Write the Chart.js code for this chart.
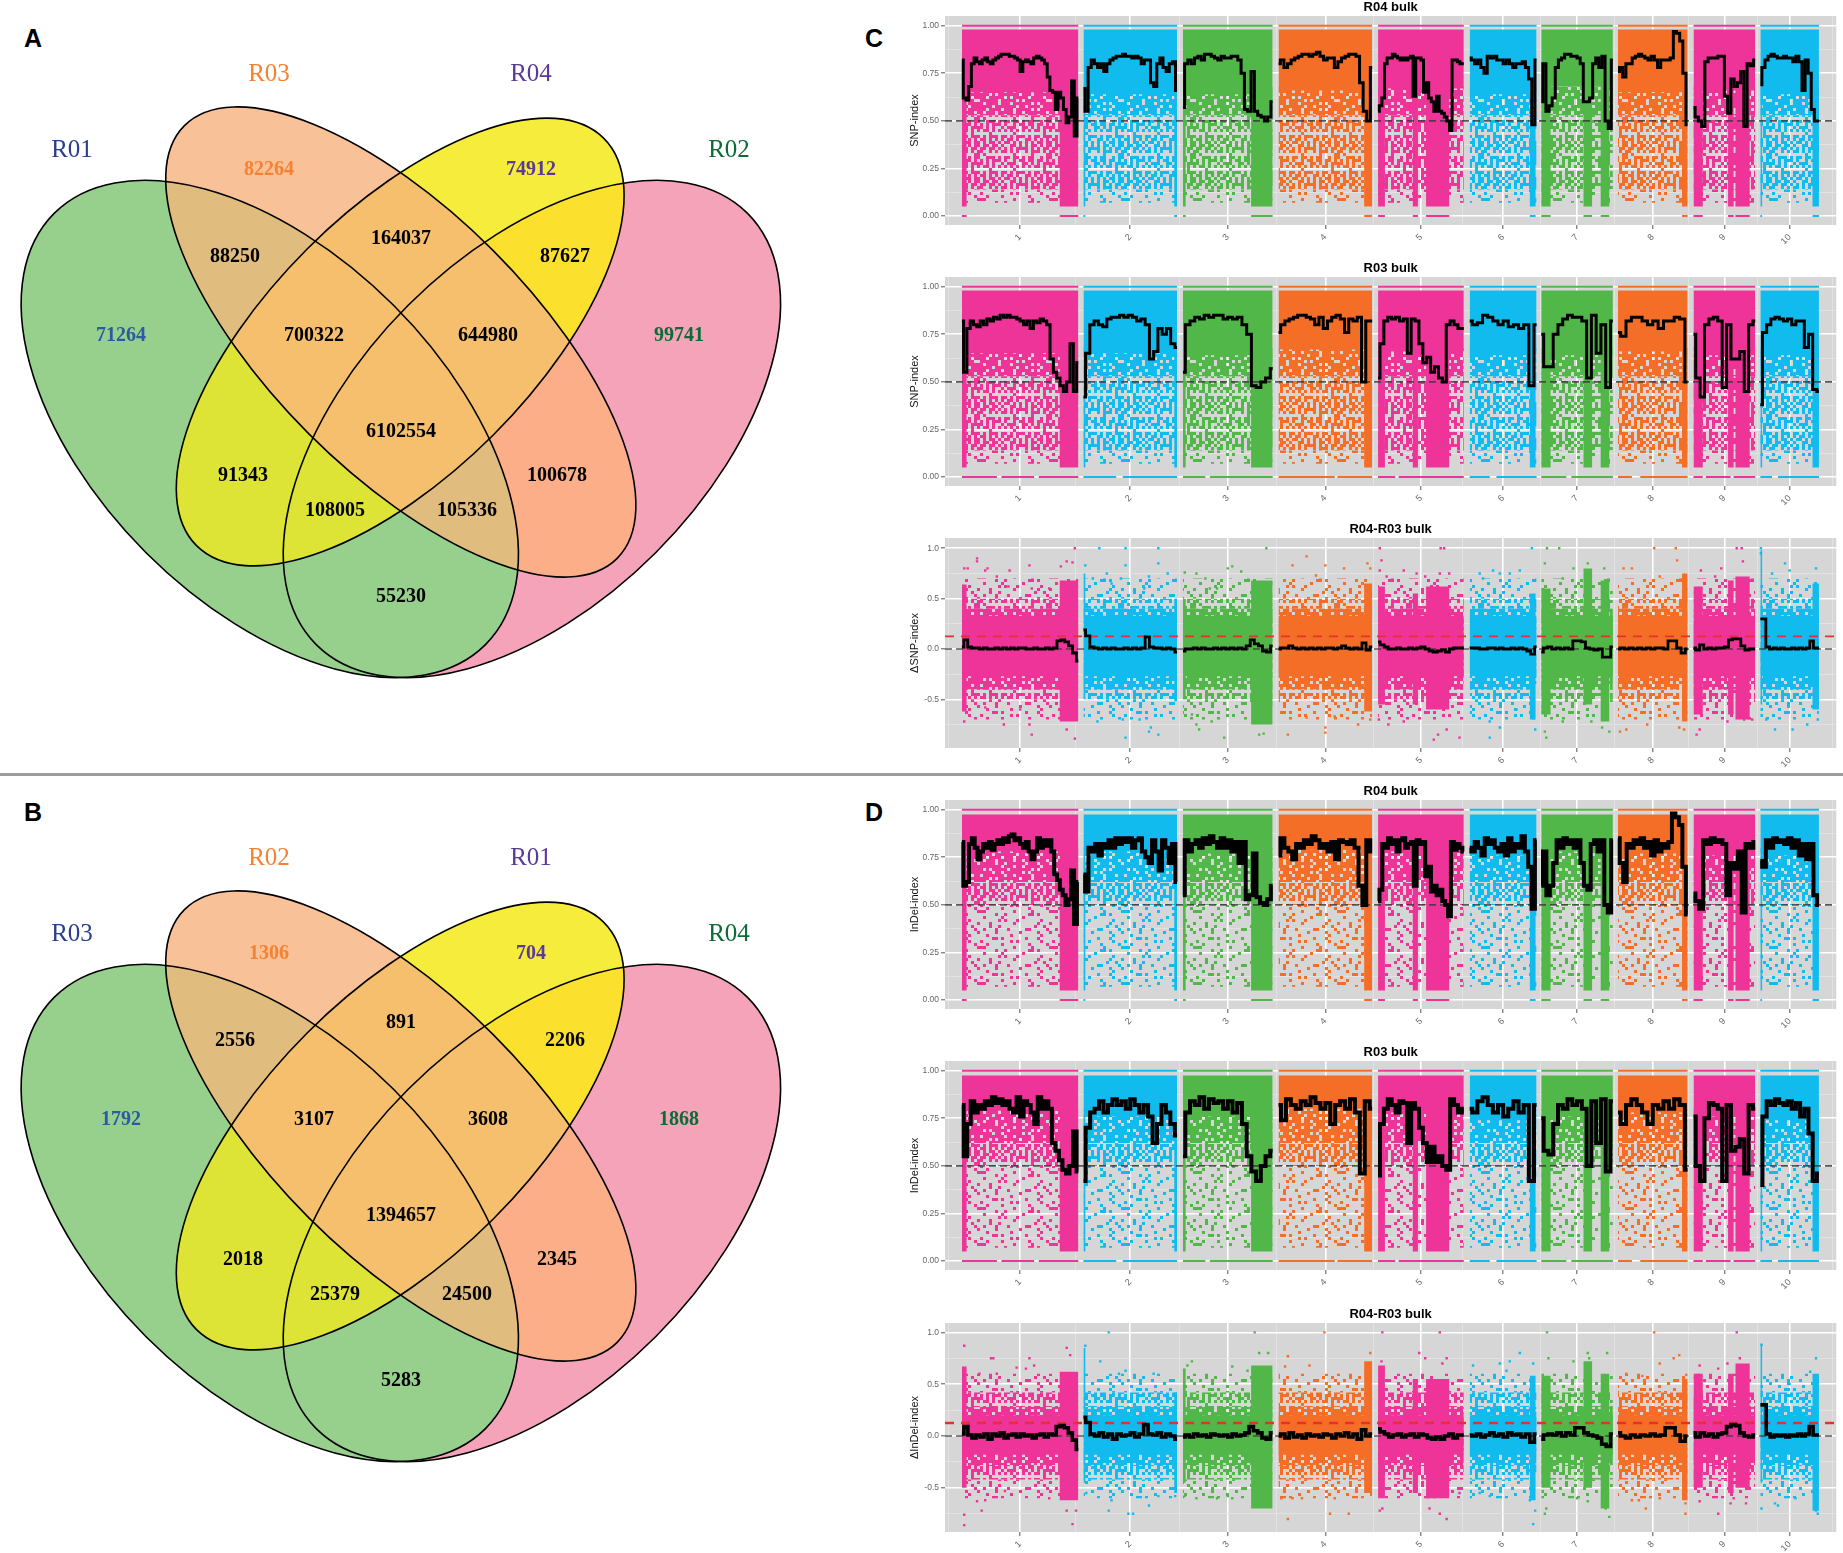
<!DOCTYPE html>
<html>
<head>
<meta charset="utf-8">
<title>Venn and index plots</title>
<script src="https://cdn.jsdelivr.net/npm/chart.js@4"></script>
<style>
  html, body { margin: 0; padding: 0; background: #fff; }
  #page { position: relative; width: 1843px; height: 1553px; overflow: hidden; }
  canvas { position: absolute; }
  .letter { position: absolute; font: bold 25px "Liberation Sans"; color: #000; }
  #divider { position: absolute; left: 0; top: 773px; width: 1843px; height: 3px; background: #9c9c9c; }
</style>
</head>
<body>
<div id="page">
  <div class="letter" style="left:24px;top:24px">A</div>
  <div class="letter" style="left:24px;top:798px">B</div>
  <div class="letter" style="left:865px;top:24px">C</div>
  <div class="letter" style="left:865px;top:798px">D</div>
  <div id="divider"></div>
</div>
<script>
// venn counts
const setNamesA = ["R01", "R03", "R04", "R02"];
const setNamesB = ["R03", "R02", "R01", "R04"];
const countsA = [71264, 82264, 74912, 99741, 88250, 164037, 87627, 700322, 644980, 6102554, 91343, 108005, 105336, 100678, 55230];
const countsB = [1792, 1306, 704, 1868, 2556, 891, 2206, 3107, 3608, 1394657, 2018, 25379, 24500, 2345, 5283];

// chromosomes
const chrNames = ["1", "2", "3", "4", "5", "6", "7", "8", "9", "10"];
const chrStarts = [0, 309, 562, 805, 1058, 1291, 1473, 1668, 1860, 2030];
const chrLengths = [296, 238, 228, 238, 218, 170, 182, 177, 157, 149];
// low recombination stretches, as fractions of each chromosome
const zones = [
  [[0, .04], [.84, 1]], [[0, .02], [.97, 1]], [[0, .03], [.76, 1]], [[.915, 1]],
  [[0, .08], [.405, .465], [.56, .83]], [[.9, .985]], [[0, .13], [.59, .71], [.83, .95]],
  [[.92, 1]], [[0, .15], [.56, .65], [.68, .91]], [[0, .03], [.89, 1]]
];
const r03ZeroRuns = [
  [[0, .3], [.34, .62], [.66, 1]], [[0, .35], [.42, 1]], [[0, .25], [.3, 1]], [[0, .6], [.63, 1]], [[0, .2], [.24, 1]],
  [[0, .3], [.4, 1]], [[0, .35], [.42, 1]], [[0, .2], [.32, 1]], [[0, .15], [.2, .6], [.65, 1]], [[0, .2], [.3, 1]]
];

// solid band lower edge per chromosome
const snpEdgeR04 = [.65, .64, .64, .66, .67, .64, .68, .65, .66, .64];
const snpEdgeR03 = [.65, .65, .64, .67, .66, .64, .64, .66, .64, .64];
const indelEdgeR04 = [.78, .78, .77, .79, .78, .76, .78, .77, .76, .76];
const indelEdgeR03 = [.79, .76, .76, .8, .78, .74, .76, .78, .76, .74];

// sliding window lines
const snpR04 = [
  [.82,.62,.61,.68,.80,.83,.81,.80,.82,.83,.81,.80,.82,.83,.84,.85,.85,.85,.84,.84,.83,.82,.76,.81,.82,.81,.80,.83,.84,.83,.82,.80,.73,.66,.65,.56,.65,.62,.56,.49,.52,.71,.42,.62],
  [.67,.55,.78,.82,.8,.78,.8,.76,.8,.82,.83,.84,.84,.85,.84,.84,.83,.84,.83,.8,.82,.82,.7,.68,.8,.83,.78,.76,.8,.81,.66],
  [.57,.8,.82,.8,.83,.84,.82,.85,.85,.84,.83,.82,.84,.83,.83,.84,.84,.82,.75,.56,.55,.76,.55,.53,.52,.5,.52,.6],
  [.8,.82,.78,.8,.82,.83,.84,.85,.85,.84,.85,.86,.84,.82,.83,.83,.78,.81,.83,.84,.85,.85,.84,.70,.55,.5,.78],
  [.55,.58,.62,.8,.83,.83,.85,.84,.83,.82,.83,.82,.83,.84,.63,.83,.83,.82,.65,.7,.62,.6,.55,.63,.55,.54,.52,.5,.45,.82,.82,.81,.8,.8],
  [.83,.82,.8,.82,.78,.75,.84,.83,.84,.82,.82,.8,.82,.8,.78,.8,.8,.81,.78,.72,.48,.82],
  [.6,.8,.55,.58,.62,.78,.82,.83,.85,.85,.84,.84,.83,.8,.6,.6,.62,.8,.83,.78,.84,.5,.46,.82],
  [.76,.78,.73,.8,.8,.83,.84,.85,.84,.83,.82,.84,.82,.78,.82,.82,.82,.83,.97,.96,.92,.75,.48],
  [.57,.52,.5,.47,.81,.83,.83,.83,.84,.84,.63,.54,.72,.68,.7,.76,.47,.8,.79,.82],
  [.69,.78,.82,.84,.85,.84,.83,.83,.84,.83,.83,.81,.84,.81,.66,.82,.75,.56,.5,.5]
];
const snpR03 = [
  [.82,.55,.78,.82,.8,.79,.82,.8,.83,.82,.84,.83,.85,.84,.85,.84,.84,.83,.82,.8,.82,.78,.82,.81,.83,.82,.8,.62,.55,.52,.48,.45,.5,.7,.45,.6],
  [.42,.65,.8,.82,.8,.79,.83,.84,.84,.85,.84,.85,.84,.82,.83,.8,.62,.66,.78,.75,.78,.7,.68],
  [.55,.8,.82,.84,.83,.85,.84,.85,.85,.83,.84,.83,.84,.8,.75,.48,.47,.5,.52,.57],
  [.76,.8,.82,.83,.84,.85,.85,.84,.83,.8,.84,.78,.82,.84,.85,.83,.76,.83,.82,.84,.5,.82,.82],
  [.52,.7,.82,.84,.83,.84,.82,.83,.65,.83,.82,.7,.6,.63,.55,.58,.52,.5,.8,.82,.8,.78,.78],
  [.82,.8,.81,.85,.84,.82,.8,.82,.79,.8,.78,.8,.48,.8],
  [.75,.58,.58,.75,.8,.83,.85,.84,.84,.82,.52,.85,.65,.8,.47,.82],
  [.76,.74,.82,.84,.84,.82,.8,.82,.78,.82,.82,.84,.83,.5],
  [.75,.52,.42,.8,.83,.84,.82,.47,.8,.62,.62,.66,.45,.8,.82],
  [.38,.76,.8,.83,.84,.83,.82,.83,.8,.82,.82,.68,.75,.46,.45]
];
const snpDelta = [
  [.02,.09,.02,.01,.01,0,.01,0,0,.01,0,.01,0,.01,0,.01,.01,0,0,.01,0,0,.01,0,.01,.08,.09,.07,.03,-.04,-.12],
  [.19,.13,.02,.01,0,.01,0,.01,0,0,.01,0,.01,0,.01,.12,.02,.01,.01,0,.01,0,-.03],
  [-.02,0,0,.01,0,.01,0,0,.01,0,.01,0,.01,0,.01,0,.03,.09,.05,.03,-.02,-.03,.03],
  [0,.01,.01,.03,.01,0,.01,0,.01,0,.01,0,.01,.01,0,.01,.03,.01,0,.01,0,.06,-.01,.02],
  [.07,.04,.02,0,0,.01,0,0,.01,0,.01,.02,0,-.02,-.03,-.02,-.01,-.03,0,.01,.01,.01],
  [.01,.01,.01,0,0,.01,.01,0,.01,0,0,.01,0,.01,0,-.02,-.05,.02],
  [-.03,.01,.02,0,.01,0,.01,0,.08,.08,.07,.01,0,-.01,0,-.08,-.08,.02],
  [0,.01,0,.01,0,.01,0,.01,0,.01,.01,0,.08,.08,.01,-.04,0],
  [.01,-.01,.04,0,.01,0,.01,.01,.02,.09,.1,.1,.03,-.01,0,0],
  [.3,.3,.02,0,.01,0,.01,0,0,.01,0,.01,0,.01,.08,.01,.01]
];
const indelR04 = [
  [.83,.6,.62,.82,.85,.8,.74,.78,.82,.8,.83,.79,.82,.84,.82,.85,.83,.86,.87,.84,.85,.82,.8,.83,.78,.74,.78,.85,.8,.84,.81,.84,.78,.66,.63,.58,.55,.5,.53,.68,.4,.62],
  [.66,.57,.8,.78,.82,.76,.82,.8,.84,.8,.85,.82,.85,.83,.85,.8,.84,.85,.78,.75,.72,.84,.78,.68,.84,.8,.72,.82,.62],
  [.55,.84,.78,.82,.84,.8,.85,.82,.86,.83,.8,.85,.8,.84,.78,.83,.72,.83,.53,.55,.77,.54,.51,.5,.53,.6],
  [.76,.85,.8,.78,.74,.82,.8,.84,.82,.86,.84,.8,.82,.78,.83,.74,.84,.83,.82,.84,.8,.6,.5,.84,.78],
  [.52,.58,.82,.8,.85,.82,.84,.78,.84,.85,.8,.82,.83,.6,.84,.82,.83,.65,.7,.57,.6,.55,.58,.52,.5,.44,.83,.79,.82,.8,.78],
  [.8,.78,.83,.8,.76,.85,.82,.84,.8,.78,.82,.76,.85,.78,.82,.8,.86,.78,.7,.48,.84],
  [.6,.78,.55,.6,.72,.84,.8,.85,.82,.84,.8,.84,.72,.6,.58,.82,.84,.78,.84,.5,.46,.84],
  [.85,.72,.62,.82,.8,.84,.82,.85,.8,.83,.76,.84,.78,.82,.8,.83,.98,.96,.92,.7,.45],
  [.56,.52,.48,.84,.82,.85,.83,.84,.82,.55,.72,.69,.78,.46,.82,.8,.83],
  [.73,.7,.84,.8,.85,.83,.84,.82,.85,.8,.84,.76,.82,.74,.82,.55,.5]
];
const indelR03 = [
  [.82,.55,.72,.84,.78,.82,.8,.84,.82,.86,.83,.85,.82,.84,.8,.78,.86,.76,.84,.82,.78,.72,.86,.8,.84,.8,.62,.58,.53,.48,.46,.5,.68,.47],
  [.42,.7,.78,.8,.84,.78,.82,.85,.82,.84,.8,.85,.82,.78,.82,.76,.62,.72,.82,.78,.72,.66],
  [.55,.78,.84,.82,.86,.8,.85,.83,.84,.8,.84,.78,.83,.72,.55,.47,.42,.5,.55,.58],
  [.82,.74,.85,.82,.8,.84,.82,.86,.83,.8,.83,.72,.82,.84,.8,.85,.78,.46,.84,.8],
  [.45,.72,.8,.85,.82,.78,.84,.83,.62,.83,.8,.7,.62,.52,.6,.52,.55,.5,.48,.85,.82,.78,.8],
  [.8,.78,.84,.86,.82,.78,.82,.76,.8,.84,.78,.82,.42,.82],
  [.75,.58,.56,.72,.82,.8,.85,.82,.84,.8,.5,.84,.62,.85,.47,.84],
  [.78,.72,.82,.85,.82,.78,.72,.82,.8,.84,.8,.85,.82,.48],
  [.76,.5,.42,.75,.83,.82,.8,.42,.82,.58,.6,.64,.46,.82,.8],
  [.4,.76,.84,.82,.85,.83,.82,.84,.8,.83,.76,.8,.67,.42,.46]
];
const indelDelta = [
  [.02,.09,.01,-.02,.01,-.01,.02,-.03,.02,0,.03,-.02,.01,.02,-.01,.02,0,.01,-.02,.01,.02,-.01,.02,.01,.09,.1,.08,.03,-.04,-.13],
  [.18,.13,.02,0,.03,-.01,.02,-.03,.02,0,.01,.03,-.01,.02,.11,.02,.01,.03,-.01,.02,0,-.03],
  [-.01,.01,-.01,.02,0,.01,-.01,.02,.01,0,.01,-.01,.02,0,.01,.03,.09,.05,.03,-.02,-.03,.03],
  [0,.02,-.02,.03,-.01,.01,-.02,.02,0,.01,-.01,.02,.01,-.02,.02,0,.03,-.01,.02,-.03,.06,0,.02],
  [.07,.04,.02,-.01,.01,.02,-.01,.01,.02,-.01,.02,.01,-.02,-.03,-.01,-.03,0,.02,-.02,.01,.01],
  [.01,0,.02,-.01,.01,.03,0,.02,-.01,.03,.01,.02,-.01,.02,-.06,.02],
  [-.03,.01,.02,.01,.03,0,.03,.01,.08,.08,.03,.01,0,-.02,-.08,-.1,.02],
  [.03,0,-.02,.01,-.01,.01,0,.02,0,.01,.08,.08,.01,-.05,0],
  [.03,-.01,.03,0,.02,-.01,.02,.03,.09,.11,.1,.03,0,-.01,.01],
  [.3,.3,.02,-.01,.01,0,.01,-.01,.01,0,.02,0,.02,.09,.01,.01]
];

// delta band: solid [top, bottom], then per chromosome one [top, bottom] per zone
const snpDeltaBase = [.33, -.27], indelDeltaBase = [.2, -.18];
const snpDeltaSpans = [
  [[.64,-.62],[.68,-.72]], [[.75,-.5],[.5,-.52]], [[.5,-.5],[.68,-.75]], [[.65,-.62]],
  [[.62,-.55],[.55,-.55],[.62,-.6]], [[.55,-.7]], [[.6,-.65],[.8,-.55],[.68,-.72]],
  [[.75,-.72]], [[.62,-.65],[.68,-.65],[.72,-.7]], [[.98,-.55],[.65,-.6]]
];
const indelDeltaSpans = [
  [[.67,-.5],[.62,-.62]], [[.85,-.45],[.42,-.55]], [[.65,-.45],[.68,-.7]], [[.72,-.55]],
  [[.68,-.6],[.55,-.55],[.55,-.6]], [[.58,-.62]], [[.58,-.5],[.72,-.5],[.6,-.7]],
  [[.55,-.62]], [[.6,-.5],[.6,-.55],[.7,-.5]], [[.88,-.45],[.6,-.72]]
];
// isolated points outside the delta bands: [fraction along chromosome, value]
const snpDeltaStray = [
  [[.02,.8],[.05,.8],[.13,.9],[.13,.87],[.2,.78],[.22,.8],[.3,.72],[.41,.78],[.58,.83],[.85,.82],[.9,.87],[.95,.86],[.97,1],[.58,-.75],[.6,-.85],[.36,-.75],[.97,-.89],[.9,-.8],[.02,-.72],[.2,-.58],[.5,-.6],[.75,.6],[.6,.6],[.4,.62]],
  [[.02,.83],[.17,1],[.45,1],[.8,1],[.25,.75],[.4,.7],[.45,.83],[.7,.72],[.8,.85],[.9,.75],[.45,-.88],[.7,-.82],[.8,-.85],[.15,-.72],[.42,-.7],[.6,-.7],[.72,-.78],[.3,.65],[.65,.6],[.1,.7]],
  [[.93,1],[.55,.82],[.5,.8],[.65,.77],[.25,.7],[.15,.75],[.38,.6],[.02,.76],[.46,-.88],[.18,-.8],[.15,-.75],[.32,-.72],[.85,-.85],[.9,-.84],[.1,-.65],[.3,.6]],
  [[.15,.83],[.3,.92],[.4,.73],[.5,.83],[.7,.8],[.95,.85],[.98,.8],[.1,-.85],[.5,-.78],[.5,-.83],[.3,-.68],[.85,-.75],[.6,-.67],[.98,-.7]],
  [[.02,1],[.73,1],[.77,1],[.04,.88],[.02,.78],[.1,.72],[.3,.78],[.45,.75],[.55,.72],[.72,.75],[.83,.75],[.01,-.7],[.12,-.75],[.3,-.72],[.7,-.85],[.8,-.8],[.95,-.88],[.65,-.9]],
  [[.93,1],[.15,.75],[.2,.7],[.35,.78],[.45,.75],[.6,.75],[.75,.78],[.45,-.78],[.3,-.88],[.98,-.8],[.7,-.6],[.3,-.72]],
  [[.08,1],[.25,1],[.05,.85],[.45,.8],[.65,.85],[.88,.8],[.3,.7],[.05,-.82],[.07,-.88],[.3,-.72],[.7,-.72],[.85,-.78],[.95,-.82]],
  [[.52,1],[.83,1],[.08,.8],[.2,.8],[.6,.72],[.85,.88],[.03,-.82],[.12,-.8],[.42,-.75],[.88,-.78],[.95,-.8]],
  [[.7,1],[.78,1],[.12,.78],[.45,.8],[.8,.87],[.35,.72],[.1,-.8],[.05,-.85],[.55,-.72],[.82,-.7],[.95,-.7]],
  [[.01,1],[.01,.95],[.42,.85],[.5,.78],[.2,.75],[.95,.8],[.55,-.8],[.25,-.8],[.8,-.75],[.98,-.7],[.1,-.7]]
];
const indelDeltaStray = [
  [[.02,.87],[.25,.75],[.27,.75],[.58,.75],[.62,.68],[.55,.65],[.47,.66],[.9,.85],[.93,.78],[.15,.6],[.3,.6],[.02,-.86],[.02,-.76],[.17,-.72],[.2,-.62],[.13,-.63],[.37,-.53],[.75,-.6],[.95,-.85],[.9,-.72],[.98,-.72]],
  [[.27,1],[.02,.87],[.18,.72],[.38,.6],[.45,.63],[.75,.6],[.27,-.72],[.3,-.62],[.48,-.75],[.53,-.75],[.7,-.67],[.8,-.58],[.03,-.55],[.98,-.58]],
  [[.8,1],[.95,.8],[.85,.8],[.05,.68],[.1,.72],[.55,.67],[.72,.63],[.15,-.6],[.38,-.6],[.5,-.58],[.55,-.6],[.02,-.58]],
  [[.49,1],[.1,.77],[.07,.67],[.33,.68],[.1,-.8],[.03,-.6],[.15,-.6],[.25,-.6],[.6,-.6],[.55,-.75],[.75,-.75],[.98,.8]],
  [[.04,.72],[.05,1],[.72,1],[.48,.8],[.55,.75],[.8,.75],[.75,.7],[.02,-.72],[.05,-.7],[.6,-.7],[.72,-.75],[.8,-.8],[.95,-.55]],
  [[.05,.68],[.45,.7],[.6,.72],[.75,.8],[.95,.7],[.55,.63],[.15,-.55],[.3,-.58],[.95,-.85],[.98,-.72],[.9,-.62]],
  [[.08,1],[.1,.75],[.45,.72],[.65,.8],[.92,.8],[.67,.75],[.05,-.75],[.07,-.7],[.65,-.63],[.9,-.7],[.95,-.78],[.5,-.6]],
  [[.52,1],[.12,.6],[.35,.58],[.6,.7],[.8,.75],[.88,.78],[.2,-.62],[.3,-.62],[.4,-.7],[.6,-.6],[.97,-.75],[.97,-.65]],
  [[.7,1],[.1,.68],[.55,.7],[.75,.75],[.4,.65],[.1,-.63],[.4,-.75],[.65,-.6],[.85,-.65],[.6,-.65]],
  [[.02,.88],[.95,.75],[.85,.62],[.5,.5],[.02,-.7],[.25,-.65],[.3,-.67],[.95,-.72],[.98,-.75],[.6,-.6]]
];

// stipple textures for the areas where dots thin out
const tileMid = [
  "###.####.###.#####.#.###", "##.###.#####.##.#######.", ".#####.##.######.###.###", "########.###.##.#####.##",
  "##.#.#####.#######.#.###", "#####.##.######.#.######", "#.#######.##.#####.###.#", "####.#.#######.###.#####",
  "###.#####.#.#####.####.#", ".######.#####.#.#######.", "##.####.###.######.#.###", "#####.#######.##.####.##"
];
const tileLow = [
  "#.##.##.#..##.#.#.##.#.#", ".##.##.#.#.#.####.#.#.##", "##..#.#.##.#.#..#.###.#.", "#.#.........#.....#....#",
  "#..###.#.##.##.#.##..#.#", ".#.#.###.#..#.##.##.##.#", "##.#.#..#.###..##.#.#.##", "#.##.#.#.#.#.#.#.#.##.#.",
  "....#.......#.........#.", "#.#.###.##.#.###.#.##.##", ".##.#.#.#.##.#..##.#.#.#", "#.#.##.#.##.#.#.#.#.##.#"
];
const tileFaint = [
  "..#...#...#.....##.....#", "#.....#.......#.....#...", "...#.......#.........#..", ".....##.#.......#...#...",
  ".#.........#.#.......#..", "...#....#........#.....#", "###.........#.....#.....", "......#..#.......##.#...",
  "..#.....#......#........", ".......#.#...#.......#..", "#...#.......#.......#...", "....#..#...........#..#."
];

const chrColors = ["#EE3399", "#12BBEE", "#50B748", "#F56E27", "#EE3399", "#12BBEE", "#50B748", "#F56E27", "#EE3399", "#12BBEE"];

Chart.defaults.font.family = "'Liberation Sans'";
Chart.defaults.animation = false;
Chart.defaults.devicePixelRatio = 1;

const page = document.getElementById("page");
function addCanvas(left, top, w, h) {
  const c = document.createElement("canvas");
  c.width = w; c.height = h;
  c.style.left = left + "px"; c.style.top = top + "px";
  c.style.width = w + "px"; c.style.height = h + "px";
  page.appendChild(c);
  return c;
}

// ---- venn ----
const ellipses = {
  G: [269.8, 429, 305, 175, 45], P: [531.9, 429, 305, 175, -45],
  O: [400.8, 342, 306, 130, 45], Y: [400.2, 342, 288, 131.6, -45]
};
// paint order, each entry clips to the listed ellipses
const vennRegions = [
  ["P", "#F5A3B8"], ["G", "#96D08C"], ["O", "#F8C198"], ["OP", "#FBAE88"], ["OG", "#E0BC7E"],
  ["Y", "#F5EC3B"], ["YP", "#FBE02D"], ["YG", "#DDE435"], ["YO", "#F5BF6E"]
];
const nameX = [72, 269, 531, 729], nameY = [150, 74, 74, 150];
const countX = [121, 269, 531, 679, 235, 401, 565, 314, 488, 401, 243, 335, 467, 557, 401];
const countY = [336, 170, 170, 336, 257, 239, 257, 336, 336, 432, 476, 511, 511, 476, 597];
const nameColors = ["#2B3E8C", "#F58232", "#5B3A97", "#0D6B37"];
const countColors = ["#2B5BA0", "#F58232", "#5B3A97", "#0D6B37"];

const vennPlugin = {
  id: "venn",
  beforeDatasetsDraw(chart) {
    const { ctx, scales: { x, y } } = chart;
    const path = k => {
      const e = ellipses[k];
      ctx.beginPath();
      ctx.ellipse(x.getPixelForValue(e[0]), y.getPixelForValue(e[1]), e[2], e[3], e[4] * Math.PI / 180, 0, Math.PI * 2);
    };
    vennRegions.forEach(([keys, col]) => {
      ctx.save();
      for (const k of keys.slice(1)) { path(k); ctx.clip(); }
      path(keys[0]);
      ctx.fillStyle = col;
      ctx.fill();
      ctx.restore();
    });
    ctx.save();
    ctx.strokeStyle = "#000";
    ctx.lineWidth = 1.6;
    ["G", "P", "O", "Y"].forEach(k => { path(k); ctx.stroke(); });
    ctx.restore();
  },
  afterDatasetsDraw(chart) {
    const ctx = chart.ctx;
    ctx.save();
    ctx.textAlign = "center";
    ctx.textBaseline = "middle";
    chart.data.datasets.forEach((ds, d) => {
      chart.getDatasetMeta(d).data.forEach((pt, i) => {
        ctx.font = ds.labelFont;
        ctx.fillStyle = ds.labelColors[i] || "#000";
        ctx.fillText(ds.labels[i], pt.x, pt.y);
      });
    });
    ctx.restore();
  }
};

function drawVenn(top, names, counts) {
  new Chart(addCanvas(0, top, 860, 770), {
    type: "scatter",
    data: {
      datasets: [
        { data: nameX.map((x, i) => ({ x, y: nameY[i] })), pointRadius: 0, labels: names, labelColors: nameColors, labelFont: "25px 'Liberation Serif'" },
        { data: countX.map((x, i) => ({ x, y: countY[i] })), pointRadius: 0, labels: counts.map(String), labelColors: countColors, labelFont: "bold 20px 'Liberation Serif'" }
      ]
    },
    options: {
      responsive: false,
      events: [],
      layout: { padding: 0 },
      plugins: { legend: { display: false }, tooltip: { enabled: false } },
      scales: {
        x: { display: false, min: 0, max: 860 },
        y: { display: false, min: 0, max: 770, reverse: true }
      }
    },
    plugins: [vennPlugin]
  });
}
drawVenn(0, setNamesA, countsA);
drawVenn(784, setNamesB, countsB);

// ---- index panels ----
function tilePattern(rows, color) {
  const cell = 3;
  const t = document.createElement("canvas");
  t.width = rows[0].length * cell; t.height = rows.length * cell;
  const g = t.getContext("2d");
  g.fillStyle = color;
  rows.forEach((r, j) => { [...r].forEach((ch, i) => { if (ch === "#") g.fillRect(i * cell, j * cell, cell, cell); }); });
  return g.createPattern(t, "repeat");
}
const chrX = (c, f) => chrStarts[c] + f * chrLengths[c];
const xMin = -43, xMax = 2223;

function band(c, y, target, color) {
  return { data: [{ x: chrX(c, 0), y }, { x: chrX(c, 1), y }], fill: { value: target }, backgroundColor: color, borderWidth: 0, pointRadius: 0 };
}
// outline of a band: base level with excursions over the zones
function zoneOutline(c, base, levelAt) {
  const pts = [];
  const zs = zones[c];
  if (zs[0][0] > 0) pts.push({ x: chrX(c, 0), y: base });
  zs.forEach((z, i) => {
    const lv = levelAt(i);
    if (z[0] > 0) pts.push({ x: chrX(c, z[0]), y: base });
    pts.push({ x: chrX(c, z[0]) + .01, y: lv });
    pts.push({ x: chrX(c, z[1]), y: lv });
    if (z[1] < 1) pts.push({ x: chrX(c, z[1]) + .01, y: base });
  });
  if (zs[zs.length - 1][1] < 1) pts.push({ x: chrX(c, 1), y: base });
  return pts;
}
function windowLine(values, width) {
  return values.map((vals, c) => ({
    data: vals.map((y, i) => ({ x: chrX(c, i / (vals.length - 1)), y })),
    borderColor: "#000", borderWidth: width, pointRadius: 0, fill: false, stepped: "middle", borderJoinStyle: "miter"
  }));
}
function refLine(y, color, width, dash) {
  return { data: [{ x: xMin, y }, { x: xMax, y }], borderColor: color, borderWidth: width, borderDash: dash, pointRadius: 0, fill: false };
}

function panelChart(top, bottom, title, axisTitle, yMin, yMax, majorY, minorY, fmt, layers) {
  const plotH = bottom - top;
  const xMajor = chrNames.map((n, c) => chrX(c, .5));
  const xMinor = [xMin + 10].concat(xMajor.slice(1).map((v, i) => (v + xMajor[i]) / 2), [xMax - 10]);
  const isMajor = ctx => ctx.tick && ctx.tick.major === true;
  const gridOpts = {
    color: c => isMajor(c) ? "#FFFFFF" : "#E4E4E4",
    lineWidth: c => isMajor(c) ? 1.6 : .8,
    tickColor: c => isMajor(c) ? "#555555" : "rgba(0,0,0,0)",
    tickLength: 4, tickWidth: 1
  };
  const tickList = (mj, mn) => mj.map(value => ({ value, major: true })).concat(mn.map(value => ({ value, major: false }))).sort((a, b) => a.value - b.value);
  new Chart(addCanvas(905, top - 16, 938, plotH + 46), {
    type: "line",
    data: { datasets: layers.slice().reverse() },
    options: {
      responsive: false,
      events: [],
      layout: { padding: { right: 3 } },
      elements: { line: { tension: 0 } },
      plugins: {
        legend: { display: false }, tooltip: { enabled: false },
        title: { display: true, text: title, fullSize: false, color: "#000", font: { size: 13, weight: "bold" }, padding: { top: 0, bottom: .4 } }
      },
      scales: {
        x: {
          type: "linear", min: xMin, max: xMax,
          afterBuildTicks: s => { s.ticks = tickList(xMajor, xMinor); },
          afterFit: s => { s.height = 30; },
          border: { display: false }, grid: gridOpts,
          ticks: {
            autoSkip: false, maxRotation: 45, minRotation: 45, color: "#666666", font: { size: 9 }, padding: 3,
            callback: v => { const i = xMajor.indexOf(v); return i < 0 ? "" : chrNames[i]; }
          }
        },
        y: {
          min: yMin, max: yMax,
          afterBuildTicks: s => { s.ticks = tickList(majorY, minorY); },
          afterFit: s => { s.width = 40; },
          border: { display: false }, grid: gridOpts,
          title: { display: true, text: axisTitle, color: "#111", font: { size: 11 }, padding: { top: 3, bottom: 0 } },
          ticks: {
            autoSkip: false, color: "#666666", font: { size: 8.5 }, padding: 2,
            callback: v => majorY.includes(v) ? fmt(v) : ""
          }
        }
      }
    },
    plugins: [{
      id: "plotBg",
      beforeDraw(chart) {
        const a = chart.chartArea;
        chart.ctx.fillStyle = "#D6D6D6";
        chart.ctx.fillRect(a.left, a.top, a.width, a.height);
      }
    }]
  });
}

function indexPanel(top, bottom, title, axisTitle, values, edges, lowTiles, topSolid, zeroRuns, lineW) {
  const layers = [];
  chrNames.forEach((n, c) => {
    const col = chrColors[c];
    lowTiles.forEach(t => layers.push(band(c, t[1], t[0], tilePattern(t[2], col))));
    layers.push({ data: zoneOutline(c, edges[c], () => .05), fill: { value: topSolid }, backgroundColor: col, borderWidth: 0, pointRadius: 0 });
    // thin rows at 1 and 0
    layers.push({ data: [{ x: chrX(c, 0), y: 1 }, { x: chrX(c, 1), y: 1 }], borderColor: col, borderWidth: 2, pointRadius: 0, fill: false });
    const runs = zeroRuns ? zeroRuns[c] : zones[c];
    const zeroPts = [];
    runs.forEach(r => { zeroPts.push({ x: chrX(c, r[0]), y: 0 }, { x: chrX(c, r[1]), y: 0 }, { x: chrX(c, r[1]) + .5, y: NaN }); });
    layers.push({ data: zeroPts, borderColor: col, borderWidth: 2, pointRadius: 0, fill: false, spanGaps: false });
  });
  layers.push(refLine(.5, "rgba(60,60,60,.85)", 1.6, [7, 4]));
  windowLine(values, lineW).forEach(l => layers.push(l));
  panelChart(top, bottom, title, axisTitle, -.047, 1.051, [0, .25, .5, .75, 1], [.125, .375, .625, .875], v => v.toFixed(2), layers);
}

function deltaPanel(top, bottom, yMin, yMax, axisTitle, values, base, spans, strays, levels, redW, lineW) {
  const layers = [];
  chrNames.forEach((n, c) => {
    const col = chrColors[c];
    const mid = tilePattern(tileMid, col), low = tilePattern(tileLow, col), faint = tilePattern(tileFaint, col);
    // levels: [mid limit, low limit, faint limit]
    [1, -1].forEach(sign => {
      layers.push(band(c, sign * levels[2], sign * levels[1], faint));
      layers.push(band(c, sign * levels[1], sign * levels[0], low));
      layers.push(band(c, sign * levels[0], 0, mid));
    });
    layers.push({ data: zoneOutline(c, base[0], i => spans[c][i][0]), fill: { value: 0 }, backgroundColor: col, borderWidth: 0, pointRadius: 0 });
    layers.push({ data: zoneOutline(c, base[1], i => spans[c][i][1]), fill: { value: 0 }, backgroundColor: col, borderWidth: 0, pointRadius: 0 });
    layers.push({ data: strays[c].map(p => ({ x: chrX(c, p[0]), y: p[1] })), showLine: false, pointStyle: "rect", pointRadius: 1.7, pointBackgroundColor: col, pointBorderWidth: 0 });
  });
  layers.push(refLine(0, "rgba(60,60,60,.85)", 1.6, [7, 4]));
  layers.push(refLine(.125, "#E8302A", redW, [9, 7]));
  windowLine(values, lineW).forEach(l => layers.push(l));
  panelChart(top, bottom, "R04-R03 bulk", axisTitle, yMin, yMax, [-.5, 0, .5, 1], [-.75, -.25, .25, .75], v => v.toFixed(1), layers);
}

const snpTiles = [[.53, .68, tileMid], [.14, .53, tileLow], [.07, .14, tileFaint]];
const indelTiles = [[.62, .8, tileMid], [.5, .62, tileLow], [.07, .5, tileFaint]];

indexPanel(16, 225, "R04 bulk", "SNP-index", snpR04, snpEdgeR04, snpTiles, .98, null, 3);
indexPanel(277, 486, "R03 bulk", "SNP-index", snpR03, snpEdgeR03, snpTiles, .98, r03ZeroRuns, 3);
deltaPanel(538, 748, -.983, 1.102, "\u0394SNP-index", snpDelta, snpDeltaBase, snpDeltaSpans, snpDeltaStray, [.4, .5, .7], 1.8, 2.8);
indexPanel(800, 1009, "R04 bulk", "InDel-index", indelR04, indelEdgeR04, indelTiles, .975, null, 4);
indexPanel(1061, 1270, "R03 bulk", "InDel-index", indelR03, indelEdgeR03, indelTiles, .975, r03ZeroRuns, 4);
deltaPanel(1323, 1532, -.926, 1.09, "\u0394InDel-index", indelDelta, indelDeltaBase, indelDeltaSpans, indelDeltaStray, [.28, .42, .6], 2.6, 3.6);
</script>
</body>
</html>
